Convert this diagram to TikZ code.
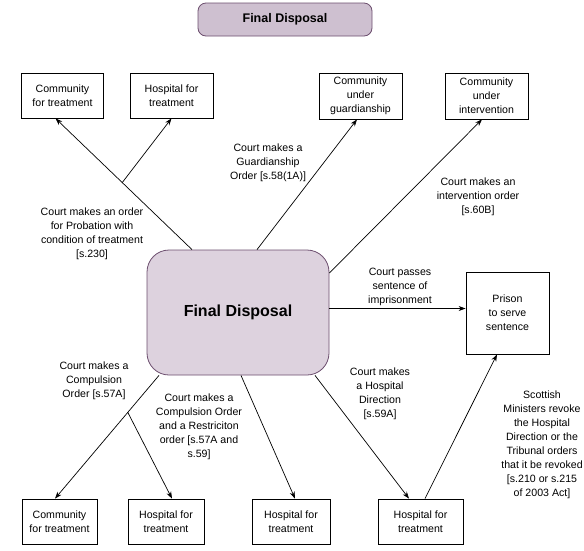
\documentclass[tikz,border=0pt]{standalone}
\usepackage{fontspec}
\setmainfont{Liberation Sans}
\usetikzlibrary{arrows.meta,calc}
\definecolor{mainfill}{RGB}{221,210,222}
\definecolor{titlefill}{RGB}{206,192,208}
\definecolor{mainborder}{RGB}{108,78,110}
\begin{document}
\begin{tikzpicture}[x=1pt,y=-1pt,
  txt/.style={font=\fontsize{10.6}{14}\selectfont},
  box/.style={draw=black,line width=0.8pt,fill=white,txt,align=center,inner sep=1pt},
  lbl/.style={txt,align=center,inner sep=0pt},
  conn/.style={line width=0.7pt,-{Stealth[length=7pt,width=5pt]}},
  plain/.style={line width=0.7pt}]
\useasboundingbox (0,0) rectangle (584,550);
% title
\node[draw=mainborder,fill=titlefill,rounded corners=8pt,line width=0.8pt,
  minimum width=174pt,minimum height=33pt,font=\fontsize{12.5}{15}\selectfont\bfseries] (title) at (285,19.5) {Final Disposal};
% main
\node[draw=mainborder,fill=mainfill,rounded corners=22pt,line width=0.8pt,
  minimum width=182pt,minimum height=125pt,font=\fontsize{16}{19}\selectfont\bfseries] (main) at (238,312.5) {Final Disposal};
% top boxes
\node[box,minimum width=82pt,minimum height=45pt] (c1) at (62.5,95.5) {Community\\for treatment};
\node[box,minimum width=83pt,minimum height=45pt] (h1) at (171.5,95.5) {Hospital for\\treatment};
\node[box,minimum width=83pt,minimum height=46pt] (cg) at (360.5,96) {Community\\under\\guardianship};
\node[box,minimum width=83pt,minimum height=46pt] (ci) at (486.5,96) {Community\\under\\intervention};
% prison
\node[box,minimum width=83pt,minimum height=82pt] (prison) at (507.5,313) {Prison\\to serve\\sentence};
% bottom boxes
\node[box,minimum width=75pt,minimum height=45pt] (b1) at (59.5,521.5) {Community\\for treatment};
\node[box,minimum width=76pt,minimum height=45pt] (b2) at (166,521.5) {Hospital for\\treatment};
\node[box,minimum width=78pt,minimum height=45pt] (b3) at (291,521.5) {Hospital for\\treatment};
\node[box,minimum width=85pt,minimum height=45pt] (b4) at (420.5,521.5) {Hospital for\\treatment};
% connectors top
\draw[conn] ([xshift=-46pt]main.north) -- ([xshift=-7pt]c1.south) coordinate[pos=0.511] (br1);
\draw[conn] (br1) -- (h1.south);
\draw[conn] ([xshift=19pt]main.north) -- ([xshift=-3.5pt]cg.south);
\draw[conn] ([yshift=39.5pt]main.east) -- ([xshift=-4.5pt]ci.south);
\draw[conn] ([yshift=4pt]main.east) -- ([yshift=4pt]main.east -| prison.west);
% connectors bottom
\draw[conn] ([xshift=-79pt]main.south) -- ([xshift=-4.5pt]b1.north) coordinate[pos=0.3] (br2);
\draw[conn] (br2) -- ([xshift=6pt]b2.north);
\draw[conn] ([xshift=3pt]main.south) -- ([xshift=4pt]b3.north);
\draw[conn] ([xshift=77pt]main.south) -- ([xshift=-11.5pt]b4.north);
\draw[conn] ([xshift=4.5pt]b4.north) -- ([xshift=-10.5pt]prison.south);
% labels
\node[lbl] (l1) at (92,234) {Court makes an order\\for Probation with\\condition of treatment\\{[s.230]}};
\node[lbl] (l2) at (268,163) {Court makes a\\Guardianship\\Order [s.58(1A)]};
\node[lbl] (l3) at (478,197) {Court makes an\\intervention order\\{[s.60B]}};
\node[lbl] (l4) at (400,287) {Court passes\\sentence of\\imprisonment};
\node[lbl] (l5) at (94,381) {Court makes a\\Compulsion\\Order [s.57A]};
\node[lbl] (l6) at (199,427) {Court makes a\\Compulsion Order\\and a Restriciton\\order [s.57A and\\s.59]};
\node[lbl] (l7) at (380,394) {Court makes\\a Hospital\\Direction\\{[s.59A]}};
\node[lbl] (l8) at (542,444.5) {Scottish\\Ministers revoke\\the Hospital\\Direction or the\\Tribunal orders\\that it be revoked\\{[s.210 or s.215}\\of 2003 Act]};
\end{tikzpicture}
\end{document}
